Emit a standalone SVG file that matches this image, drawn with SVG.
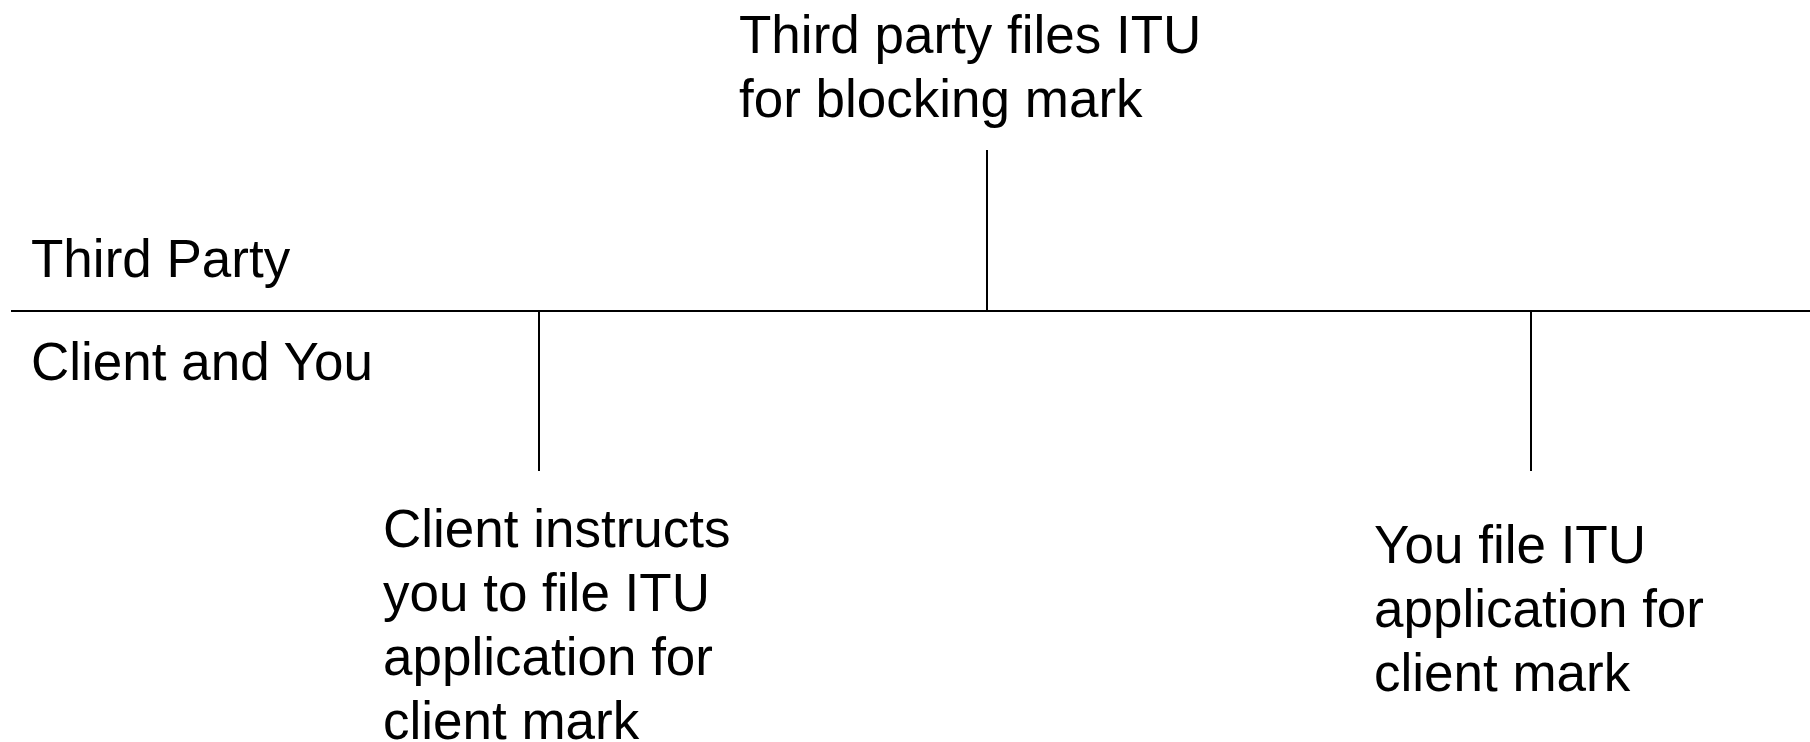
<svg xmlns="http://www.w3.org/2000/svg" width="1810" height="742" viewBox="0 0 1810 742">
<style>
.t{font-family:"Liberation Sans",Arial,sans-serif;font-size:53px;fill:#000}
.l{stroke:#000;stroke-width:2;fill:none}
</style>
<rect width="1810" height="742" fill="#fff"/>
<g id="connectors">
<line class="l" x1="11" y1="311" x2="1810" y2="311"/>
<line class="l" x1="987" y1="150" x2="987" y2="311"/>
<line class="l" x1="539" y1="311" x2="539" y2="471"/>
<line class="l" x1="1531" y1="311" x2="1531" y2="471"/>
</g>
<g id="third-party-files">
<text class="t" x="739" y="53">Third party files ITU</text>
<text class="t" x="739" y="117">for blocking mark</text>
</g>
<g id="lane-third-party"><text class="t" x="31" y="277">Third Party</text></g>
<g id="lane-client-you"><text class="t" x="31" y="380">Client and You</text></g>
<g id="client-instructs">
<text class="t" x="383" y="547">Client instructs</text>
<text class="t" x="383" y="611">you to file ITU</text>
<text class="t" x="383" y="675">application for</text>
<text class="t" x="383" y="739">client mark</text>
</g>
<g id="you-file">
<text class="t" x="1374" y="563">You file ITU</text>
<text class="t" x="1374" y="627">application for</text>
<text class="t" x="1374" y="691">client mark</text>
</g>
</svg>
